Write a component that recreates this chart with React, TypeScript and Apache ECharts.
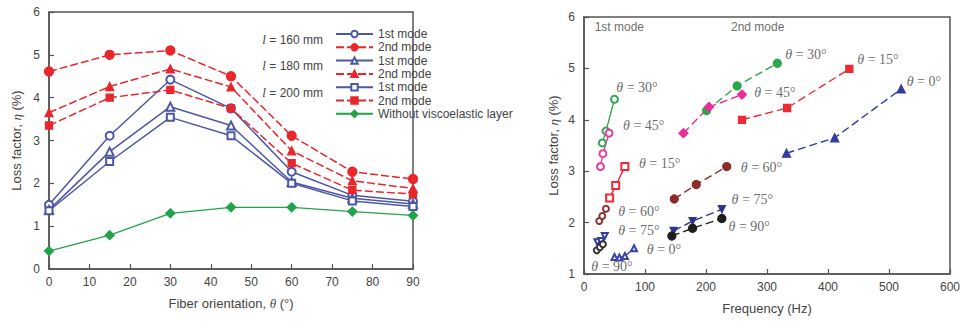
import React, { useEffect, useRef } from 'react';
import * as echarts from 'echarts';

// ---------- Left chart data ----------
const angles = [0, 15, 30, 45, 60, 75, 90];
const l160First = [1.5, 3.11, 4.42, 3.75, 2.27, 1.72, 1.58];
const l160Second = [4.61, 5.0, 5.1, 4.5, 3.11, 2.27, 2.1];
const l180First = [1.38, 2.74, 3.79, 3.35, 2.03, 1.65, 1.52];
const l180Second = [3.65, 4.26, 4.67, 4.25, 2.76, 2.06, 1.88];
const l200First = [1.36, 2.51, 3.54, 3.11, 2.0, 1.59, 1.46];
const l200Second = [3.35, 4.0, 4.18, 3.75, 2.47, 1.84, 1.75];
const noLayer = [0.42, 0.79, 1.3, 1.44, 1.44, 1.34, 1.25];
const lengthLabels = ['160', '180', '200'];

// ---------- Right chart data (frequency Hz, loss factor %) ----------
const f1_30 = [30, 36, 50];
const e1_30 = [3.55, 3.78, 4.4];
const f1_45 = [27, 31, 41];
const e1_45 = [3.09, 3.34, 3.74];
const f1_15 = [42, 52, 67];
const e1_15 = [2.48, 2.72, 3.09];
const f1_60 = [25, 30, 36];
const e1_60 = [2.03, 2.13, 2.27];
const f1_75 = [22, 28, 34];
const e1_75 = [1.62, 1.64, 1.74];
const f1_90 = [21, 26, 31];
const e1_90 = [1.46, 1.52, 1.58];
const f1_0 = [50, 58, 67, 82];
const e1_0 = [1.33, 1.32, 1.35, 1.5];

const f2_30 = [201, 251, 317];
const e2_30 = [4.18, 4.66, 5.1];
const f2_45 = [163, 205, 259];
const e2_45 = [3.74, 4.25, 4.49];
const f2_15 = [259, 333, 435];
const e2_15 = [4.0, 4.23, 4.99];
const f2_0 = [332, 411, 520];
const e2_0 = [3.35, 3.65, 4.6];
const f2_60 = [148, 184, 234];
const e2_60 = [2.46, 2.74, 3.09];
const f2_75 = [147, 178, 226];
const e2_75 = [1.84, 2.03, 2.26];
const f2_90 = [144, 178, 226];
const e2_90 = [1.74, 1.89, 2.08];

// annotation texts anchored in data coordinates of the right chart
const angleLabelText = ['30°', '45°', '15°', '60°', '75°', '0°', '90°', '30°', '15°', '0°', '45°', '60°', '75°', '90°'];
const angleLabelFreq = [53, 64, 90, 56, 56, 103, 12, 330, 448, 529, 279, 257, 242, 237];
const angleLabelLoss = [4.62, 3.88, 3.15, 2.22, 1.85, 1.48, 1.14, 5.27, 5.17, 4.74, 4.54, 3.08, 2.44, 1.92];
const modeTitles = ['1st mode', '2nd mode'];
const modeTitleFreq = [17.5, 241];
const modeTitleLoss = [5.81, 5.81];

const BLUE = '#4d57a5';
const RED = '#e8262c';
const GREEN = '#23a24a';
const AX = '#555';
const SANS = 'Liberation Sans, Arial, sans-serif';
const SERIF = 'Liberation Serif, Times New Roman, serif';

const pairs = (xs: number[], ys: number[]) => xs.map((x, i) => [x, ys[i]]);

export default function App() {
  const ref = useRef<HTMLDivElement>(null);
  useEffect(() => {
    document.body.style.margin = '0';
    const chart = echarts.init(ref.current!, null, { renderer: 'svg' });

    const axisCommon = {
      axisLine: { show: true, onZero: false, lineStyle: { color: AX, width: 1.5 } },
      axisTick: { show: true, inside: true, length: 5, lineStyle: { color: AX, width: 1.2 } },
      axisLabel: { color: '#444', fontSize: 12, fontFamily: SANS },
      splitLine: { show: false },
    };
    const nameRich = {
      a: { fontSize: 13, fontFamily: SANS, color: '#444' },
      b: { fontSize: 13, fontFamily: SERIF, fontStyle: 'italic', color: '#444' },
    };

    const leftLine = (name: string, ys: number[], color: string, symbol: string, dashed: boolean, size: number, extra: any = {}) => ({
      type: 'line',
      name,
      xAxisIndex: 0,
      yAxisIndex: 0,
      data: pairs(angles, ys),
      symbol,
      symbolSize: size,
      lineStyle: { color, width: 1.5, type: dashed ? [8, 3] : 'solid' },
      itemStyle: { color, borderColor: color, borderWidth: 1.3 },
      z: 3,
      ...extra,
    });

    const rightLine = (ys: number[], xs: number[], color: string, symbol: string, dashed: boolean, size: number, extra: any = {}) => ({
      type: 'line',
      xAxisIndex: 1,
      yAxisIndex: 1,
      data: pairs(xs, ys),
      symbol,
      symbolSize: size,
      lineStyle: { color, width: 1.4, type: dashed ? [8, 4] : 'solid' },
      itemStyle: { color, borderColor: color, borderWidth: 1.3 },
      z: 3,
      ...extra,
    });

    const legendNames = [
      '1st mode (160)', '2nd mode (160)', '1st mode (180)', '2nd mode (180)',
      '1st mode (200)', '2nd mode (200)', 'Without viscoelastic layer',
    ];

    const option: any = {
      animation: false,
      backgroundColor: '#fff',
      grid: [
        { left: 49, top: 12, width: 364, height: 257, show: true, borderColor: AX, borderWidth: 1.5 },
        { left: 584, top: 17, width: 367, height: 257, show: true, borderColor: AX, borderWidth: 1.5 },
      ],
      xAxis: [
        {
          type: 'value', gridIndex: 0, min: 0, max: 90, interval: 10, ...axisCommon,
          axisLabel: { ...axisCommon.axisLabel, margin: 7 },
          name: '{a|Fiber orientation, }{b|θ}{a| (°)}', nameLocation: 'middle', nameGap: 28,
          nameTextStyle: { rich: nameRich },
        },
        {
          type: 'value', gridIndex: 1, min: 0, max: 600, interval: 100, ...axisCommon,
          axisLabel: { ...axisCommon.axisLabel, margin: 7 },
          name: 'Frequency (Hz)', nameLocation: 'middle', nameGap: 28,
          nameTextStyle: { fontSize: 13, fontFamily: SANS, color: '#444' },
        },
      ],
      yAxis: [
        {
          type: 'value', gridIndex: 0, min: 0, max: 6, interval: 1, ...axisCommon,
          axisLabel: { ...axisCommon.axisLabel, margin: 9 },
          name: '{a|Loss factor, }{b|η}{a| (%)}', nameLocation: 'middle', nameGap: 26,
          nameTextStyle: { rich: nameRich },
        },
        {
          type: 'value', gridIndex: 1, min: 1, max: 6, interval: 1, ...axisCommon,
          axisLabel: { ...axisCommon.axisLabel, margin: 9 },
          name: '{a|Loss factor, }{b|η}{a| (%)}', nameLocation: 'middle', nameGap: 24,
          nameTextStyle: { rich: nameRich },
        },
      ],
      legend: {
        left: 330, top: 22.5, orient: 'vertical', itemWidth: 37, itemHeight: 8, itemGap: 0.3,
        data: legendNames, selectedMode: false,
        formatter: (n: string) => n.split(' (')[0],
        textStyle: { fontSize: 12, color: '#444', fontFamily: SANS, lineHeight: 13 },
      },
      graphic: lengthLabels.map((l, i) => ({
        type: 'text',
        right: 963 - 323,
        top: [33, 59, 86][i],
        style: {
          text: `{i|l}{n| = ${l} mm}`,
          rich: {
            i: { fontFamily: SERIF, fontStyle: 'italic', fontSize: 13, fill: '#444' },
            n: { fontFamily: SANS, fontSize: 12, fill: '#444' },
          },
        },
      })),
      series: [
        leftLine(legendNames[0], l160First, BLUE, 'emptyCircle', false, 8),
        leftLine(legendNames[1], l160Second, RED, 'circle', true, 9),
        leftLine(legendNames[2], l180First, BLUE, 'emptyTriangle', false, 8),
        leftLine(legendNames[3], l180Second, RED, 'triangle', true, 8),
        leftLine(legendNames[4], l200First, BLUE, 'emptyRect', false, 7),
        leftLine(legendNames[5], l200Second, RED, 'rect', true, 7),
        leftLine(legendNames[6], noLayer, GREEN, 'diamond', false, 9, { lineStyle: { color: GREEN, width: 1.3 } }),

        // Right chart: 1st mode (solid, open markers)
        rightLine(e1_30, f1_30, '#3aa655', 'emptyCircle', false, 7),
        rightLine(e1_45, f1_45, '#ec3a9b', 'emptyCircle', false, 7),
        rightLine(e1_15, f1_15, '#ee2b35', 'emptyRect', false, 7),
        rightLine(e1_60, f1_60, '#8e3535', 'emptyCircle', false, 6),
        rightLine(e1_75, f1_75, '#3540a0', 'emptyTriangle', false, 6, { symbolRotate: 180 }),
        rightLine(e1_90, f1_90, '#333', 'emptyCircle', false, 6),
        rightLine(e1_0, f1_0, '#3845a8', 'emptyTriangle', false, 6),

        // Right chart: 2nd mode (dashed, filled markers)
        rightLine(e2_30, f2_30, '#2ca84c', 'circle', true, 8),
        rightLine(e2_45, f2_45, '#ec2c98', 'diamond', true, 9),
        rightLine(e2_15, f2_15, '#ee2b35', 'rect', true, 7),
        rightLine(e2_0, f2_0, '#2f3ca0', 'triangle', true, 8),
        rightLine(e2_60, f2_60, '#8e2a2a', 'circle', true, 8),
        rightLine(e2_75, f2_75, '#2b3590', 'triangle', true, 7, { symbolRotate: 180 }),
        rightLine(e2_90, f2_90, '#1e1e1e', 'circle', true, 8),

        {
          type: 'scatter', xAxisIndex: 1, yAxisIndex: 1, symbolSize: 0, silent: true, z: 5,
          itemStyle: { color: 'transparent' },
          data: angleLabelText.map((t, i) => ({ value: [angleLabelFreq[i], angleLabelLoss[i]], name: t })),
          label: {
            show: true, position: 'right', distance: 0,
            formatter: (p: any) => `{i|θ}{n| = ${p.name}}`,
            rich: {
              i: { fontFamily: SERIF, fontStyle: 'italic', fontSize: 14, color: '#444' },
              n: { fontFamily: SERIF, fontSize: 14, color: '#444' },
            },
          },
        },
        {
          type: 'scatter', xAxisIndex: 1, yAxisIndex: 1, symbolSize: 0, silent: true, z: 5,
          itemStyle: { color: 'transparent' },
          data: modeTitles.map((t, i) => ({ value: [modeTitleFreq[i], modeTitleLoss[i]], name: t })),
          label: {
            show: true, position: 'right', distance: 0,
            formatter: (p: any) => p.name,
            fontFamily: SANS, fontSize: 12, color: '#444',
          },
        },
      ],
    };

    chart.setOption(option);
    return () => chart.dispose();
  }, []);
  return <div ref={ref} style={{ width: 963, height: 323 }} />;
}
